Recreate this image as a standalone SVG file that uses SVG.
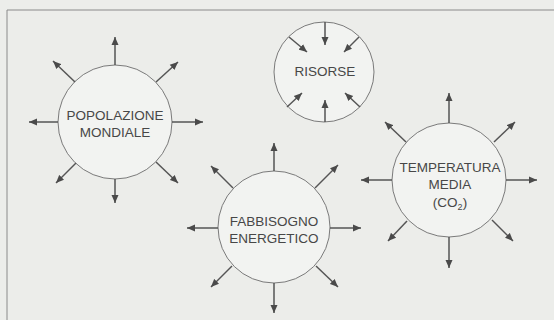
<svg xmlns="http://www.w3.org/2000/svg" width="554" height="320" viewBox="0 0 554 320">
<defs>
<marker id="ah" markerUnits="userSpaceOnUse" markerWidth="9" markerHeight="8" refX="8" refY="4" orient="auto">
<path d="M0,0.5 L8,4 L0,7.5 Z" fill="#4a4a4a"/>
</marker>
<style>
.bg{fill:#ecedea}
.frame{fill:none;stroke:#8a8a8a;stroke-width:1}
.node circle{fill:#f2f3f1;stroke:#7a7a7a;stroke-width:1}
.node text{font-family:"Liberation Sans",Arial,sans-serif;font-size:13.5px;fill:#474747;text-anchor:middle}
.conn line{stroke:#555;stroke-width:1.5;marker-end:url(#ah)}
</style>
</defs>
<rect class="bg" x="0" y="0" width="554" height="320"/>
<path class="frame" d="M7,320 V10 H554"/>

<g id="popolazione" class="node">
<circle cx="115" cy="122" r="57"/>
<text x="115" y="120">POPOLAZIONE</text>
<text x="115" y="137">MONDIALE</text>
</g>
<g id="risorse" class="node">
<circle cx="324" cy="72" r="50"/>
<text x="325" y="76">RISORSE</text>
</g>
<g id="temperatura" class="node">
<circle cx="449" cy="180" r="57"/>
<text x="450" y="172">TEMPERATURA</text>
<text x="450" y="189">MEDIA</text>
<text x="450" y="207">(CO<tspan font-size="9" dy="3">2</tspan><tspan dy="-3">)</tspan></text>
</g>
<g id="fabbisogno" class="node">
<circle cx="274" cy="227" r="56"/>
<text x="274" y="226">FABBISOGNO</text>
<text x="274" y="243">ENERGETICO</text>
</g>

<g id="connectors" class="conn">
<line x1="115" y1="65" x2="115" y2="37"/>
<line x1="172" y1="122" x2="203" y2="122"/>
<line x1="58" y1="122" x2="29" y2="122"/>
<line x1="115" y1="179" x2="115" y2="203"/>
<line x1="75" y1="82" x2="53" y2="61"/>
<line x1="156" y1="82" x2="178" y2="62"/>
<line x1="76" y1="163" x2="56" y2="183"/>
<line x1="156" y1="162" x2="178" y2="183"/>

<line x1="325" y1="22" x2="325" y2="45"/>
<line x1="289" y1="37" x2="307" y2="52"/>
<line x1="359" y1="37" x2="344" y2="52"/>
<line x1="325" y1="122" x2="325" y2="100"/>
<line x1="287" y1="107" x2="302" y2="93"/>
<line x1="360" y1="107" x2="345" y2="93"/>

<line x1="449" y1="123" x2="449" y2="93"/>
<line x1="506" y1="180" x2="537" y2="180"/>
<line x1="392" y1="180" x2="361" y2="180"/>
<line x1="449" y1="237" x2="449" y2="268"/>
<line x1="406" y1="142" x2="385" y2="122"/>
<line x1="494" y1="142" x2="515" y2="122"/>
<line x1="407" y1="221" x2="388" y2="241"/>
<line x1="492" y1="220" x2="513" y2="241"/>

<line x1="274" y1="171" x2="274" y2="143"/>
<line x1="218" y1="228" x2="187" y2="228"/>
<line x1="330" y1="228" x2="361" y2="228"/>
<line x1="274" y1="283" x2="274" y2="313"/>
<line x1="233" y1="188" x2="211" y2="166"/>
<line x1="315" y1="188" x2="338" y2="165"/>
<line x1="232" y1="266" x2="211" y2="287"/>
<line x1="316" y1="266" x2="338" y2="287"/>
</g>
</svg>
